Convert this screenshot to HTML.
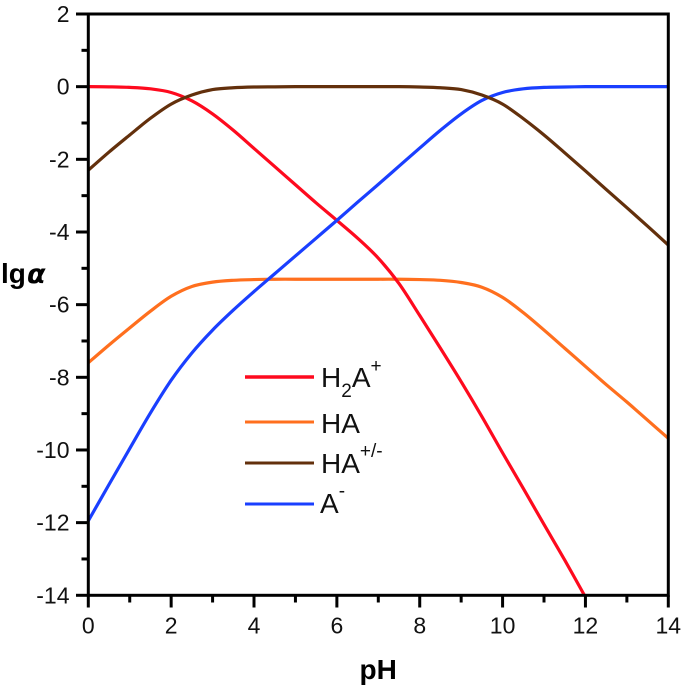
<!DOCTYPE html>
<html lang="en">
<head>
<meta charset="utf-8">
<title>lg alpha vs pH</title>
<style>
html,body{margin:0;padding:0;background:#fff;overflow:hidden;}
body{width:685px;height:691px;}
svg{display:block;font-family:"Liberation Sans",Arial,sans-serif;}
</style>
</head>
<body>
<svg id="chart" xmlns="http://www.w3.org/2000/svg" width="685" height="691" viewBox="0 0 685 691">
  <defs><clipPath id="plot-clip"><rect x="88" y="14" width="580.3" height="581.3"></rect></clipPath></defs>
  <g id="series" clip-path="url(#plot-clip)"></g>
  <g id="axes"></g>
  <text x="359.5" y="679" font-size="28" font-weight="bold" fill="#000">pH</text>
  <text x="1" y="283" font-size="28" font-weight="bold" fill="#000">lg</text>
  <text x="27" y="283" font-size="27" font-weight="bold" font-style="italic" fill="#000" style="font-family:'DejaVu Sans',sans-serif">α</text>
  <g id="legend">
    <line x1="245" x2="314" y1="377" y2="377" stroke="#fe0a1e" stroke-width="3.4"></line>
    <text x="321" y="387" font-size="28" fill="#111">H<tspan font-size="19" dy="10">2</tspan><tspan dy="-10">A</tspan><tspan font-size="19" dy="-15">+</tspan></text>
    <line x1="245" x2="314" y1="422" y2="422" stroke="#ff6f1e" stroke-width="3"></line>
    <text x="321" y="433" font-size="28" fill="#111">HA</text>
    <line x1="245" x2="314" y1="463" y2="463" stroke="#63300c" stroke-width="3"></line>
    <text x="321" y="473" font-size="28" fill="#111">HA<tspan font-size="19" dy="-16">+/-</tspan></text>
    <line x1="245" x2="314" y1="504" y2="504" stroke="#1a3fff" stroke-width="3"></line>
    <text x="320" y="513" font-size="28" fill="#111">A<tspan font-size="19" dy="-16">-</tspan></text>
  </g>
</svg>
<script>
const xTickLabels = [0, 2, 4, 6, 8, 10, 12, 14];
const xMinorTicks = [1, 3, 5, 7, 9, 11, 13];
const yTickLabels = [2, 0, -2, -4, -6, -8, -10, -12, -14];
const yMinorTicks = [1, -1, -3, -5, -7, -9, -11, -13];

const pH = [0, 0.5, 1, 1.5, 2, 2.5, 3, 3.5, 4, 4.5, 5, 5.5, 6, 6.5, 7, 7.5, 8, 8.5, 9, 9.5, 10, 10.5, 11, 11.5, 12, 12.5, 13, 13.5, 14];
const h2aValues = [0, -0.005, -0.02, -0.06, -0.16, -0.39, -0.75, -1.2, -1.7, -2.2, -2.7, -3.2, -3.68, -4.17, -4.72, -5.42, -6.3, -7.2, -8.12, -9.08, -10.08, -11.06, -12.05, -13.03, -14.05];
const haValues = [-7.6, -7.11, -6.64, -6.18, -5.77, -5.5, -5.38, -5.33, -5.31, -5.3, -5.3, -5.3, -5.3, -5.3, -5.3, -5.3, -5.31, -5.33, -5.39, -5.52, -5.8, -6.22, -6.7, -7.2, -7.7, -8.2, -8.68, -9.18, -9.68];
const haZwitterValues = [-2.3, -1.8, -1.33, -0.87, -0.48, -0.23, -0.08, -0.03, -0.01, -0.005, 0, 0, 0, 0, 0, 0, -0.01, -0.03, -0.08, -0.23, -0.48, -0.88, -1.33, -1.82, -2.32, -2.83, -3.33, -3.84, -4.36];
const aMinusValues = [-11.95, -10.95, -9.96, -8.98, -8.08, -7.33, -6.7, -6.15, -5.64, -5.15, -4.66, -4.17, -3.68, -3.18, -2.69, -2.19, -1.69, -1.2, -0.75, -0.38, -0.16, -0.06, -0.02, -0.01, 0, 0, 0, 0, 0];

const NS = 'http://www.w3.org/2000/svg';
const xScale = v => 88.3 + v * (668.3 - 88.3) / 14;
const yScale = v => 14 + (2 - v) * (595.3 - 14) / 16;

function makeEl(tag, attrs, parent) {
  const el = document.createElementNS(NS, tag);
  for (const k in attrs) el.setAttribute(k, attrs[k]);
  parent.appendChild(el);
  return el;
}

function smoothPath(xs, ys) {
  const px = xs.slice(0, ys.length).map(xScale), py = ys.map(yScale);
  let d = 'M' + px[0].toFixed(2) + ' ' + py[0].toFixed(2);
  for (let i = 0; i < px.length - 1; i++) {
    const p0 = Math.max(i - 1, 0), p3 = Math.min(i + 2, px.length - 1);
    const c1x = px[i] + (px[i + 1] - px[p0]) / 6, c1y = py[i] + (py[i + 1] - py[p0]) / 6;
    const c2x = px[i + 1] - (px[p3] - px[i]) / 6, c2y = py[i + 1] - (py[p3] - py[i]) / 6;
    d += 'C' + c1x.toFixed(2) + ' ' + c1y.toFixed(2) + ' ' + c2x.toFixed(2) + ' ' + c2y.toFixed(2) + ' ' + px[i + 1].toFixed(2) + ' ' + py[i + 1].toFixed(2);
  }
  return d;
}

const seriesGroup = document.getElementById('series');
const axesGroup = document.getElementById('axes');

const haPath = makeEl('path', { d: smoothPath(pH, haValues), fill: 'none', stroke: '#ff6f1e', 'stroke-width': 3.2 }, seriesGroup);


const h2aPath = makeEl('path', { d: smoothPath(pH, h2aValues), fill: 'none', stroke: '#fe0a1e', 'stroke-width': 3.2 }, seriesGroup);


const aPath = makeEl('path', { d: smoothPath(pH, aMinusValues), fill: 'none', stroke: '#1a3fff', 'stroke-width': 3.2 }, seriesGroup);


const zwPath = makeEl('path', { d: smoothPath(pH, haZwitterValues), fill: 'none', stroke: '#63300c', 'stroke-width': 3.2 }, seriesGroup);



const frame = makeEl('rect', { x: 88.3, y: 14, width: 580, height: 581.3, fill: 'none', stroke: '#000', 'stroke-width': 3 }, axesGroup);



xTickLabels.forEach(v => {
  const t = makeEl('line', { x1: xScale(v), x2: xScale(v), y1: 595.3, y2: 607.5, stroke: '#000', 'stroke-width': 3 }, axesGroup);
  
  
  const l = makeEl('text', { x: xScale(v), y: 633.5, 'text-anchor': 'middle', 'font-size': 23, fill: '#111' }, axesGroup);
  
  
  l.textContent = v;
});
xMinorTicks.forEach(v => {
  const t = makeEl('line', { x1: xScale(v), x2: xScale(v), y1: 595.3, y2: 602.5, stroke: '#000', 'stroke-width': 3 }, axesGroup);
  
  
});
yTickLabels.forEach(v => {
  const t = makeEl('line', { x1: 76, x2: 88.3, y1: yScale(v), y2: yScale(v), stroke: '#000', 'stroke-width': 3 }, axesGroup);
  
  
  const l = makeEl('text', { x: 69.5, y: yScale(v) + 8, 'text-anchor': 'end', 'font-size': 23, fill: '#111' }, axesGroup);
  
  
  l.textContent = v;
});
yMinorTicks.forEach(v => {
  const t = makeEl('line', { x1: 81.5, x2: 88.3, y1: yScale(v), y2: yScale(v), stroke: '#000', 'stroke-width': 3 }, axesGroup);
  
  
});
</script>
</body>
</html>
